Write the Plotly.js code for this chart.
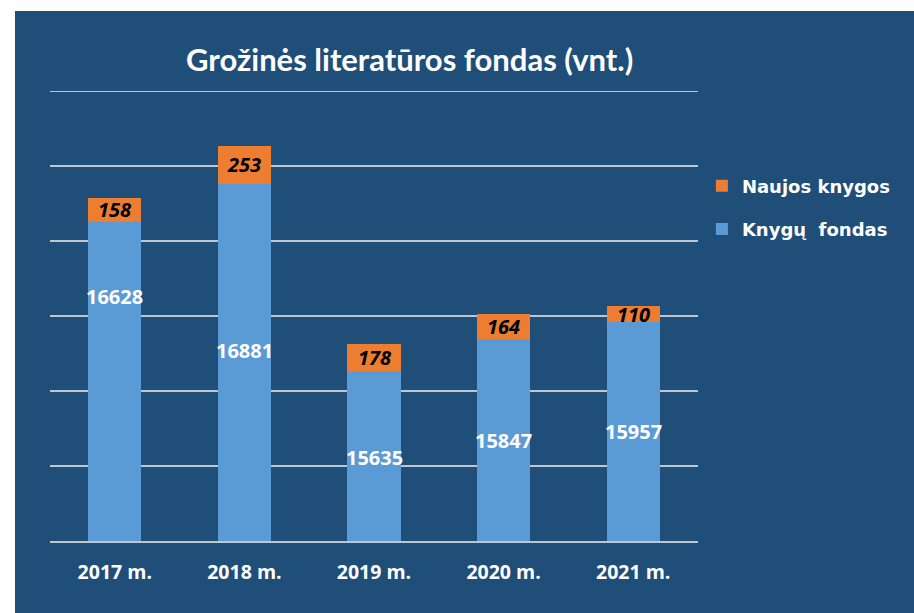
<!DOCTYPE html>
<html>
<head>
<meta charset="utf-8">
<script src="https://cdn.plot.ly/plotly-3.0.1.min.js"></script>
<style>
  html, body { margin: 0; padding: 0; background: #ffffff; }
  #chart { position: absolute; left: 15px; top: 11px; width: 899px; height: 602px; }
</style>
</head>
<body>
<div id="chart"></div>
<script>
// ---- data ----
const years = ["2017 m.", "2018 m.", "2019 m.", "2020 m.", "2021 m."];
const fondas = [16628, 16881, 15635, 15847, 15957];   // Knygų fondas
const naujos = [158, 253, 178, 164, 110];             // Naujos knygos
const fondasName = "Knygų\u00a0\u00a0fondas";
const naujosName = "Naujos knygos";

// label placement for the white values (data units, as in the original)
const fondasLabelY = [16133, 15767, 15060, 15167, 15227];

const BG = "#1F4E79";
const BLUE = "#5B9BD5";
const ORANGE = "#ED7D31";
const GRID = "#BFC6CE";
const LABEL_FONT = "Open Sans, sans-serif";

const traces = [
  {
    type: "bar", name: fondasName, x: years, y: fondas,
    marker: { color: BLUE, line: { width: 0 } },
    legendgroup: "a", legendrank: 2, hoverinfo: "x+y"
  },
  {
    type: "bar", name: naujosName, x: years, y: naujos,
    marker: { color: ORANGE, line: { width: 0 } },
    legendgroup: "b", legendrank: 1, hoverinfo: "x+y"
  }
];

const annotations = [];
years.forEach((yr, i) => {
  annotations.push({
    x: yr, y: fondasLabelY[i], xref: "x", yref: "y",
    text: "<b>" + fondas[i] + "</b>", showarrow: false,
    font: { family: LABEL_FONT, size: 20, color: "#ffffff", weight: "bold" }
  });
  annotations.push({
    x: yr, y: fondas[i] + naujos[i] / 2, xref: "x", yref: "y",
    text: "<b><i>" + naujos[i] + "</i></b>", showarrow: false,
    font: { family: LABEL_FONT, size: 20, color: "#000000", weight: "bold" }
  });
});

const layout = {
  width: 899, height: 602,
  paper_bgcolor: BG, plot_bgcolor: BG,
  margin: { l: 35, r: 216, t: 80, b: 72 },
  barmode: "stack",
  bargap: 0.59,
  title: {
    text: "<b>Grožinės literatūros fondas (vnt.)</b>",
    font: { family: "Lato, sans-serif", size: 31, color: "#ffffff" },
    x: 0.439, xanchor: "center", xref: "container",
    y: 0.918, yanchor: "middle", yref: "container"
  },
  xaxis: {
    type: "category",
    showgrid: false, zeroline: false,
    showline: true, linecolor: GRID, linewidth: 2,
    ticks: "outside", ticklen: 13, tickcolor: "rgba(0,0,0,0)",
    tickfont: { family: LABEL_FONT, size: 19.5, color: "#ffffff", weight: "bold" },
    fixedrange: true
  },
  yaxis: {
    range: [14500, 17500], dtick: 500, tick0: 14500,
    showticklabels: false, ticks: "",
    showgrid: true, gridcolor: GRID, gridwidth: 2,
    zeroline: false, showline: false, fixedrange: true
  },
  shapes: [
    { type: "line", layer: "below", xref: "paper", x0: 0, x1: 1, yref: "y", y0: 17500, y1: 17500,
      line: { color: GRID, width: 2 } }
  ],
  showlegend: true,
  legend: {
    x: 1.006, xanchor: "left", y: 0.83, yanchor: "top",
    traceorder: "grouped", tracegroupgap: 17,
    bgcolor: "rgba(0,0,0,0)",
    font: { family: "DejaVu Sans, sans-serif", size: 18, color: "#ffffff", weight: "bold" }
  },
  annotations: annotations
};

Plotly.newPlot("chart", traces, layout, { displayModeBar: false, staticPlot: true });
</script>
</body>
</html>
